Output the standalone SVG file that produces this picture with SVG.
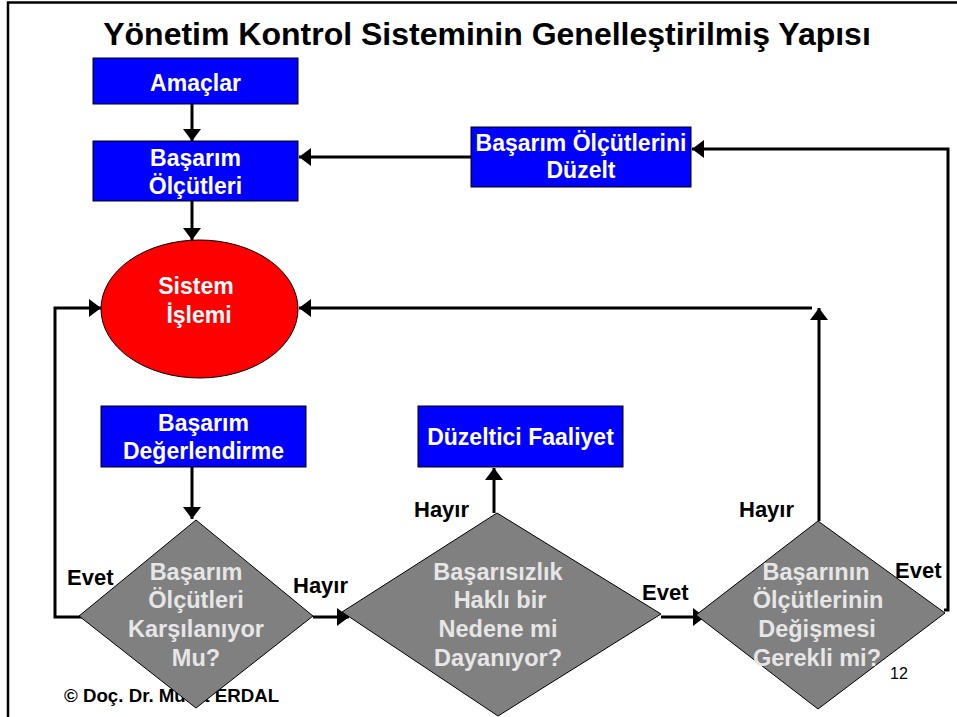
<svg xmlns="http://www.w3.org/2000/svg" width="957" height="717" viewBox="0 0 957 717">
<style>
text{font-family:"Liberation Sans",Arial,sans-serif;font-weight:bold;}
.box{fill:#0000FF;stroke:#000;stroke-width:1;}
.dia{fill:#808080;stroke:#000;stroke-width:1;}
.wt{fill:#FFFFFF;font-size:23px;text-anchor:middle;}
.dt{fill:#E6E6E6;font-size:23.5px;text-anchor:middle;}
.lbl{fill:#000;font-size:22px;}
.pg{fill:#000;font-size:16px;font-weight:normal;}
.ln{fill:none;stroke:#000;stroke-width:3;}
.arr{fill:none;stroke:#000;stroke-width:3;marker-end:url(#ah);}
</style>
<defs>
<marker id="ah" markerUnits="userSpaceOnUse" markerWidth="14" markerHeight="20" refX="12" refY="9" orient="auto">
<path d="M0,0 L12,9 L0,18 z" fill="#000"/>
</marker>
</defs>
<rect width="957" height="717" fill="#FFFFFF"/>
<g id="frame">
<path d="M8,717 L8,2.5 L957,2.5" fill="none" stroke="#000" stroke-width="2.5"/>
</g>
<text id="title" x="487" y="45" font-size="32" text-anchor="middle" fill="#000">Yönetim Kontrol Sisteminin Genelleştirilmiş Yapısı</text>
<text id="footer" x="64" y="702" font-size="18.7" fill="#000">© Doç. Dr. Murat ERDAL</text>
<g id="connectors">
<line class="arr" x1="192" y1="104" x2="192" y2="141"/>
<line class="arr" x1="192" y1="201" x2="192" y2="240"/>
<line class="arr" x1="471" y1="157" x2="299" y2="157"/>
<line class="arr" x1="812" y1="308" x2="299" y2="308"/>
<line class="arr" x1="819" y1="521" x2="819" y2="308"/>
<polyline class="arr" points="944,610 948,610 948,149 692,149"/>
<polyline class="arr" points="82,617 55,617 55,308 101,308"/>
<line class="arr" x1="192" y1="467" x2="192" y2="519"/>
<line class="arr" x1="313" y1="617" x2="349" y2="617"/>
<line class="arr" x1="494" y1="513" x2="494" y2="468"/>
<line class="arr" x1="661" y1="617" x2="705" y2="617"/>
</g>
<g id="amaclar">
<rect class="box" x="93" y="58" width="205" height="46"/>
<text class="wt" x="195.5" y="91">Amaçlar</text>
</g>
<g id="basarim-olcutleri">
<rect class="box" x="93" y="141" width="205" height="60"/>
<text class="wt" x="195.5" y="166">Başarım</text>
<text class="wt" x="195.5" y="194">Ölçütleri</text>
</g>
<g id="olcut-duzelt">
<rect class="box" x="471" y="127" width="220" height="60"/>
<text class="wt" x="581" y="151" font-size="21">Başarım Ölçütlerini</text>
<text class="wt" x="581" y="178" font-size="21">Düzelt</text>
</g>
<g id="sistem-islemi">
<ellipse cx="199.5" cy="309" rx="98.5" ry="69" fill="#FF0000" stroke="#000" stroke-width="1"/>
<text class="wt" x="196" y="294">Sistem</text>
<text class="wt" x="199" y="323">İşlemi</text>
</g>
<g id="basarim-degerlendirme">
<rect class="box" x="101" y="406" width="205" height="61"/>
<text class="wt" x="203.5" y="431">Başarım</text>
<text class="wt" x="203.5" y="459">Değerlendirme</text>
</g>
<g id="duzeltici-faaliyet">
<rect class="box" x="418" y="406" width="205" height="61"/>
<text class="wt" x="520.5" y="445">Düzeltici Faaliyet</text>
</g>
<g id="karar1">
<polygon class="dia" points="196,520 313,616 196,708 79,616"/>
<text class="dt" x="196" y="580">Başarım</text>
<text class="dt" x="196" y="608">Ölçütleri</text>
<text class="dt" x="196" y="637">Karşılanıyor</text>
<text class="dt" x="196" y="666">Mu?</text>
</g>
<g id="karar2">
<polygon class="dia" points="497,513 661,614 498,716 342,612"/>
<text class="dt" x="498" y="580">Başarısızlık</text>
<text class="dt" x="500" y="608">Haklı bir</text>
<text class="dt" x="498" y="637">Nedene mi</text>
<text class="dt" x="498" y="666">Dayanıyor?</text>
</g>
<g id="karar3">
<polygon class="dia" points="818,521 945,613 818,709 696,615"/>
<text class="dt" x="816" y="580">Başarının</text>
<text class="dt" x="818" y="608">Ölçütlerinin</text>
<text class="dt" x="817" y="637">Değişmesi</text>
<text class="dt" x="817" y="666">Gerekli mi?</text>
</g>
<g id="labels">
<text class="lbl" x="67" y="585">Evet</text>
<text class="lbl" x="293" y="593">Hayır</text>
<text class="lbl" x="414" y="517">Hayır</text>
<text class="lbl" x="642" y="600">Evet</text>
<text class="lbl" x="739" y="517">Hayır</text>
<text class="lbl" x="895" y="578">Evet</text>
<text class="pg" x="890" y="679">12</text>
</g>
</svg>
